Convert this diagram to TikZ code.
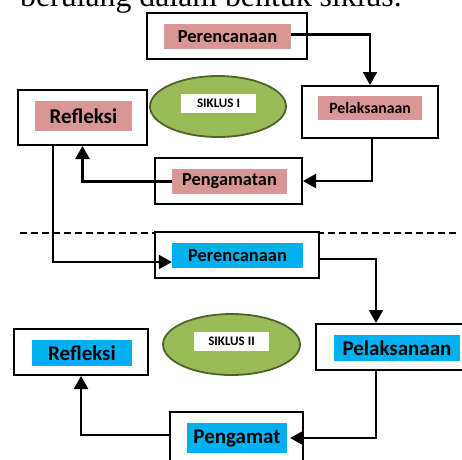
\documentclass[tikz,border=0pt]{standalone}
\usepackage{fontspec}
\setmainfont{Carlito}
\newfontfamily\titlefont{Liberation Serif}
\usetikzlibrary{arrows.meta,shapes.geometric}
\definecolor{pinkfill}{HTML}{D99694}
\definecolor{bluefill}{HTML}{00B0F0}
\definecolor{ellfill}{HTML}{9BBB59}
\definecolor{elldraw}{HTML}{4F6228}
\tikzset{
  outerbox/.style={draw=black, line width=2pt, fill=white, inner sep=0pt},
  pinklabel/.style={fill=pinkfill, inner sep=0pt, font=\bfseries},
  bluelabel/.style={fill=bluefill, inner sep=0pt, font=\bfseries},
  ellnode/.style={ellipse, draw=elldraw, line width=1.8pt, fill=ellfill, inner sep=0pt},
  whitelabel/.style={fill=white, inner sep=0pt, font=\bfseries\fontsize{13}{14}\selectfont},
  arr/.style={draw=black, line width=2.2pt, -{Triangle[length=13pt,width=14pt]}},
  sep/.style={dash pattern=on 7pt off 4pt, line width=1.2pt},
}
\begin{document}
\begin{tikzpicture}[x=1pt,y=-1pt]
\useasboundingbox (0,0) rectangle (462,459);
% title
\node[anchor=base west, inner sep=0pt, font=\titlefont\fontsize{31.8}{34}\selectfont] (title) at (20,6) {berulang dalam bentuk siklus.};
% ---- Siklus I ----
\node[outerbox, minimum width=160pt, minimum height=46pt] (p1box) at (227,36) {};
\node[pinklabel, minimum width=127pt, minimum height=25pt, font=\bfseries\fontsize{18.5}{20}\selectfont] (p1) at (227.5,36.5) {Perencanaan};
\node[outerbox, minimum width=136pt, minimum height=52pt] (l1box) at (370,112) {};
\node[pinklabel, minimum width=104pt, minimum height=24pt, font=\bfseries\fontsize{15.7}{17}\selectfont] (l1) at (370,108) {Pelaksanaan};
\node[outerbox, minimum width=129pt, minimum height=55pt] (r1box) at (82.5,117.5) {};
\node[pinklabel, minimum width=97pt, minimum height=30pt, font=\bfseries\fontsize{21}{23}\selectfont] (r1) at (83.5,116) {Refleksi};
\node[ellnode, minimum width=136pt, minimum height=61pt] (e1) at (218,106.5) {};
\node[whitelabel, minimum width=75pt, minimum height=19pt] (e1t) at (218.5,103.5) {SIKLUS I};
\node[outerbox, minimum width=147pt, minimum height=46pt] (g1box) at (228.5,181) {};
\node[pinklabel, minimum width=115pt, minimum height=25pt, font=\bfseries\fontsize{18.3}{20}\selectfont] (g1) at (229.5,181.5) {Pengamatan};
\draw[arr] ([yshift=2pt]p1.east) -| (l1box.north);
\draw[arr] ([xshift=2pt]l1box.south) |- (g1box.east);
\draw[arr] (g1.west) -| (r1box.south);
% separator
\coordinate (sepa) at (20,233);
\coordinate (sepb) at (457,233);
\draw[sep] (sepa) -- (sepb);
% ---- Siklus II ----
\node[outerbox, minimum width=164pt, minimum height=46pt] (p2box) at (237,255) {};
\node[bluelabel, minimum width=131pt, minimum height=25pt, font=\bfseries\fontsize{18.4}{20}\selectfont] (p2) at (237.5,255.5) {Perencanaan};
\node[outerbox, minimum width=152pt, minimum height=46pt] (l2box) at (392,347) {};
\node[bluelabel, minimum width=126pt, minimum height=26pt, font=\bfseries\fontsize{21}{23}\selectfont] (l2) at (397,348) {Pelaksanaan};
\node[outerbox, minimum width=134pt, minimum height=46pt] (r2box) at (81,352) {};
\node[bluelabel, minimum width=100pt, minimum height=26pt, font=\bfseries\fontsize{21}{23}\selectfont] (r2) at (82,353) {Refleksi};
\node[ellnode, minimum width=137pt, minimum height=61pt] (e2) at (231.5,344.5) {};
\node[whitelabel, minimum width=75pt, minimum height=19pt] (e2t) at (231.5,341.5) {SIKLUS II};
\node[outerbox, minimum width=133pt, minimum height=50pt] (g2box) at (236.5,437) {};
\node[bluelabel, minimum width=100pt, minimum height=30pt, font=\bfseries\fontsize{21}{23}\selectfont] (g2) at (237,438) {Pengamat};
\draw[arr] ([xshift=-29.5pt]r1box.south) |- ([yshift=-6.5pt]p2.west);
\draw[arr] ([yshift=-4pt]p2box.east) -| ([xshift=-16pt]l2box.north);
\draw[arr] ([xshift=-16pt]l2box.south) |- ([xshift=3pt]g2.east);
\draw[arr] ([yshift=2pt]g2box.west) -| (r2box.south);
\end{tikzpicture}
\end{document}
